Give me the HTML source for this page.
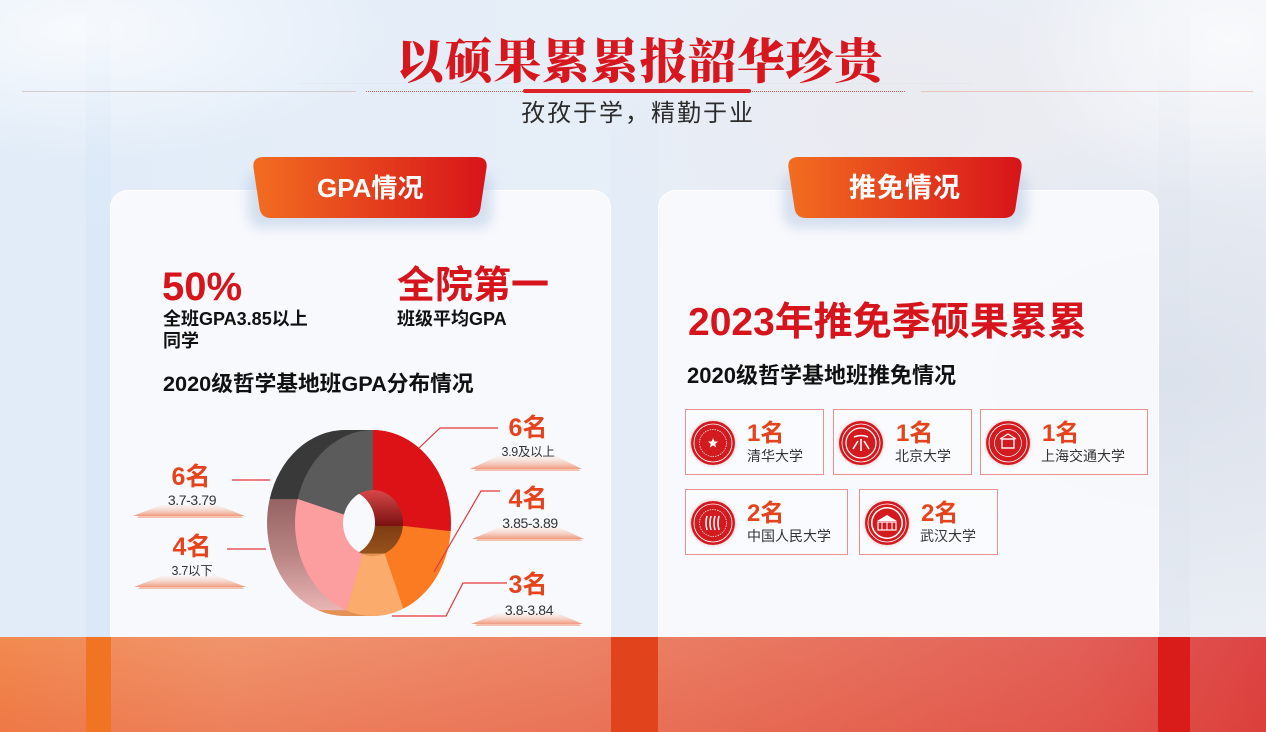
<!DOCTYPE html>
<html><head><meta charset="utf-8">
<style>
html,body{margin:0;padding:0;}
body{width:1266px;height:732px;position:relative;overflow:hidden;
background:
radial-gradient(ellipse 320px 130px at 80px 30px, rgba(255,255,255,0.75), rgba(255,255,255,0)),
radial-gradient(ellipse 220px 160px at 1230px 40px, rgba(255,255,255,0.7), rgba(255,255,255,0)),
radial-gradient(ellipse 380px 260px at 1180px 380px, rgba(214,220,232,0.7), rgba(214,220,232,0)),
radial-gradient(ellipse 300px 200px at 900px 120px, rgba(236,232,236,0.6), rgba(236,232,236,0)),
linear-gradient(90deg,#e1ecf8 0%,#e6eef8 45%,#eaeef4 100%);
font-family:"Liberation Sans","Noto Sans CJK SC",sans-serif;}
.t{position:absolute;white-space:nowrap;line-height:1;}
.card{position:absolute;top:190px;height:470px;border-radius:18px;background:rgba(248,250,253,0.92);box-shadow:0 0 0 1px rgba(255,255,255,0.9) inset;}
.box{position:absolute;border:1px solid #ec8f8f;background:rgba(255,255,255,0.35);box-sizing:border-box;}
.rk{color:#e5431c;font-weight:700;font-size:24px;}
.nm{color:#333;font-size:14px;}
.lab{color:#e6431c;font-weight:700;font-size:25px;text-align:center;width:120px;}
.sub{color:#333;font-size:12.5px;text-align:center;width:120px;letter-spacing:-0.3px;}
.subd{color:#333;font-size:14px;text-align:center;width:120px;letter-spacing:-0.4px;}
</style></head>
<body>
<!-- vertical light strips -->
<div style="position:absolute;left:86px;top:0;width:25px;height:637px;background:linear-gradient(180deg,rgba(200,222,246,0) 0%,rgba(200,222,246,0.3) 40%,rgba(200,222,246,0.3) 100%);"></div>
<div style="position:absolute;left:611px;top:0;width:47px;height:637px;background:linear-gradient(180deg,rgba(214,228,244,0) 0%,rgba(214,228,244,0.2) 40%,rgba(214,228,244,0.2) 100%);"></div>
<div style="position:absolute;left:1159px;top:0;width:31px;height:637px;background:linear-gradient(180deg,rgba(220,226,236,0) 0%,rgba(220,226,236,0.3) 40%,rgba(220,226,236,0.3) 100%);"></div>

<!-- cards -->
<div class="card" style="left:110px;width:501px;"></div>
<div class="card" style="left:658px;width:501px;"></div>

<!-- boxes (below svg so emblems stay vivid) -->
<div class="box" style="left:685px;top:409px;width:139px;height:66px;"></div>
<div class="box" style="left:833px;top:409px;width:139px;height:66px;"></div>
<div class="box" style="left:980px;top:409px;width:168px;height:66px;"></div>
<div class="box" style="left:685px;top:489px;width:163px;height:66px;"></div>
<div class="box" style="left:859px;top:489px;width:139px;height:66px;"></div>

<!-- bottom band -->
<div style="position:absolute;left:0;top:637px;width:1266px;height:95px;
background:linear-gradient(180deg,rgba(255,255,255,0) 0%,rgba(220,40,20,0.18) 100%),linear-gradient(90deg,#f28a50 0%,#f0946c 18%,#ec8466 45%,#e7735f 65%,#e26058 85%,#dc4444 100%);"></div>
<div style="position:absolute;left:0;top:637px;width:1266px;height:95px;background:radial-gradient(ellipse 260px 90px at 1266px 732px, rgba(215,20,20,0.7), rgba(215,20,20,0));"></div>
<div style="position:absolute;left:86px;top:637px;width:25px;height:95px;background:#f07424;"></div>
<div style="position:absolute;left:611px;top:637px;width:47px;height:95px;background:#e1441c;"></div>
<div style="position:absolute;left:1158px;top:637px;width:32px;height:95px;background:#d91c1a;"></div>

<svg width="1266" height="732" style="position:absolute;left:0;top:0;" xmlns="http://www.w3.org/2000/svg">
<defs>
<linearGradient id="tabg" x1="0" y1="0" x2="1" y2="0">
<stop offset="0" stop-color="#f26d20"/><stop offset="1" stop-color="#d8141a"/></linearGradient>
<filter id="blur" x="-20%" y="-40%" width="140%" height="180%"><feGaussianBlur stdDeviation="6"/></filter>
<filter id="blur2" x="-20%" y="-20%" width="140%" height="140%"><feGaussianBlur stdDeviation="1.5"/></filter>
<linearGradient id="redside" gradientUnits="userSpaceOnUse" x1="0" y1="490" x2="0" y2="526">
<stop offset="0" stop-color="#d64848"/><stop offset="1" stop-color="#7a1010"/></linearGradient>
<linearGradient id="orside" gradientUnits="userSpaceOnUse" x1="0" y1="526" x2="0" y2="560">
<stop offset="0" stop-color="#7e3c12"/><stop offset="1" stop-color="#9c5820"/></linearGradient>
<linearGradient id="pkside" gradientUnits="userSpaceOnUse" x1="0" y1="498" x2="0" y2="612">
<stop offset="0" stop-color="#946262"/><stop offset="0.5" stop-color="#b98484"/><stop offset="1" stop-color="#ecb6b6"/></linearGradient>
<linearGradient id="trap" x1="0" y1="0" x2="0" y2="1">
<stop offset="0" stop-color="#fbe4da" stop-opacity="0.3"/><stop offset="1" stop-color="#f09a7e"/></linearGradient>
<g id="side">
<path d="M373,430 A78,93 0 0 1 450.7,531.1 L402.9,525.9 A30,33 0 0 0 373,490 Z" fill="url(#redside)"/>
<path d="M450.7,531.1 A78,93 0 0 1 403.5,608.6 L384.7,553.4 A30,33 0 0 0 402.9,525.9 Z" fill="url(#orside)"/>
<path d="M403.5,608.6 A78,93 0 0 1 346.3,610.4 L362.7,554 A30,33 0 0 0 384.7,553.4 Z" fill="#e49258"/>
<path d="M346.3,610.4 A78,93 0 0 1 297.7,498.9 L344,514.5 A30,33 0 0 0 362.7,554 Z" fill="url(#pkside)"/>
<path d="M297.7,498.9 A78,93 0 0 1 373,430 L373,490 A30,33 0 0 0 344,514.5 Z" fill="#393939"/>
</g>
</defs>

<!-- title lines -->
<line x1="22" y1="91.5" x2="356" y2="91.5" stroke="#d6cccc" stroke-width="1"/>
<line x1="299" y1="83.5" x2="974" y2="83.5" stroke="#d8d8d8" stroke-width="1" stroke-dasharray="1 1.5" opacity="0.5"/>
<line x1="366" y1="91.5" x2="905" y2="91.5" stroke="#e05a5a" stroke-width="1" stroke-dasharray="1 1"/>
<line x1="525" y1="91" x2="749" y2="91" stroke="#dd2228" stroke-width="4" stroke-linecap="round"/>
<line x1="921" y1="91.5" x2="1253" y2="91.5" stroke="#eac4bc" stroke-width="1"/>

<!-- tabs -->
<rect x="248" y="172" width="244" height="56" rx="14" fill="#a9bede" opacity="0.45" filter="url(#blur)"/>
<rect x="783" y="172" width="244" height="56" rx="14" fill="#a9bede" opacity="0.45" filter="url(#blur)"/>
<path d="M264,157 L476,157 Q488,157 486.5,168 L480.5,208 Q479,218 469,218 L271,218 Q261,218 259.5,208 L253.5,168 Q252,157 264,157 Z" fill="url(#tabg)"/>
<path d="M799,157 L1011,157 Q1023,157 1021.5,168 L1015.5,208 Q1014,218 1004,218 L806,218 Q796,218 794.5,208 L788.5,168 Q787,157 799,157 Z" fill="url(#tabg)"/>

<!-- donut extrusion -->
<use href="#side" x="-28"/><use href="#side" x="-27"/><use href="#side" x="-26"/><use href="#side" x="-25"/>
<use href="#side" x="-24"/><use href="#side" x="-23"/><use href="#side" x="-22"/><use href="#side" x="-21"/>
<use href="#side" x="-20"/><use href="#side" x="-19"/><use href="#side" x="-18"/><use href="#side" x="-17"/>
<use href="#side" x="-16"/><use href="#side" x="-15"/><use href="#side" x="-14"/><use href="#side" x="-13"/>
<use href="#side" x="-12"/><use href="#side" x="-11"/><use href="#side" x="-10"/><use href="#side" x="-9"/>
<use href="#side" x="-8"/><use href="#side" x="-7"/><use href="#side" x="-6"/><use href="#side" x="-5"/>
<use href="#side" x="-4"/><use href="#side" x="-3"/><use href="#side" x="-2"/><use href="#side" x="-1"/>
<!-- donut front -->
<path d="M373,430 A78,93 0 0 1 450.7,531.1 L402.9,525.9 A30,33 0 0 0 373,490 Z" fill="#dd1216"/>
<path d="M450.7,531.1 A78,93 0 0 1 403.5,608.6 L384.7,553.4 A30,33 0 0 0 402.9,525.9 Z" fill="#fa7b22"/>
<path d="M403.5,608.6 A78,93 0 0 1 346.3,610.4 L362.7,554 A30,33 0 0 0 384.7,553.4 Z" fill="#fbab6c"/>
<path d="M346.3,610.4 A78,93 0 0 1 297.7,498.9 L344,514.5 A30,33 0 0 0 362.7,554 Z" fill="#fc9ea0"/>
<path d="M297.7,498.9 A78,93 0 0 1 373,430 L373,490 A30,33 0 0 0 344,514.5 Z" fill="#5b5b5b"/>

<!-- leader lines -->
<g fill="none" stroke="#e2383a" stroke-width="1.2">
<polyline points="419,448 440,428 498,428"/>
<polyline points="434,572 481,491 500,491"/>
<polyline points="392,616 446,616 463,583 507,583"/>
<polyline points="232,480 270,480"/>
<polyline points="227,549 266,549"/>
</g>

<!-- trapezoids -->
<g>
<polygon points="470,469 498,456 556,456 582,469" fill="url(#trap)"/><polygon points="474,471 580,471 578,469 476,469" fill="#f6c2b0"/>
<polygon points="472,539 500,527 558,527 584,539" fill="url(#trap)"/><polygon points="476,541 582,541 580,539 478,539" fill="#f6c2b0"/>
<polygon points="471,624 499,613 557,613 583,624" fill="url(#trap)"/><polygon points="475,626 581,626 579,624 477,624" fill="#f6c2b0"/>
<polygon points="133,516 161,505 217,505 245,516" fill="url(#trap)"/><polygon points="137,518 243,518 241,516 139,516" fill="#f6c2b0"/>
<polygon points="134,587 162,576 218,576 246,587" fill="url(#trap)"/><polygon points="138,589 244,589 242,587 140,587" fill="#f6c2b0"/>
</g>

<!-- emblems -->
<g>
<g transform="translate(713,443)"><circle r="23" fill="#e8a0a0" opacity="0.4" filter="url(#blur2)"/><circle r="22" fill="#d31b1f"/><circle r="19" fill="none" stroke="#fff" stroke-width="0.8"/><circle r="13.5" fill="none" stroke="#fff" stroke-width="0.7" stroke-dasharray="1.5 1"/><polygon points="0,-5 1.5,-1.5 5,-1.5 2.2,1 3.2,4.5 0,2.4 -3.2,4.5 -2.2,1 -5,-1.5 -1.5,-1.5" fill="#fff"/></g>
<g transform="translate(861,443)"><circle r="23" fill="#e8a0a0" opacity="0.4" filter="url(#blur2)"/><circle r="22" fill="#d31b1f"/><circle r="19" fill="none" stroke="#fff" stroke-width="0.8"/><circle r="15" fill="none" stroke="#fff" stroke-width="1.2"/><g stroke="#fff" stroke-width="1.6" fill="none"><path d="M-7,-6 Q0,-9 7,-6"/><path d="M0,-4 L0,8"/><path d="M-3,-2 L-8,6"/><path d="M3,-2 L8,6"/></g></g>
<g transform="translate(1008,443)"><circle r="23" fill="#e8a0a0" opacity="0.4" filter="url(#blur2)"/><circle r="22" fill="#d31b1f"/><circle r="19" fill="none" stroke="#fff" stroke-width="0.8"/><circle r="13.5" fill="none" stroke="#fff" stroke-width="0.7"/><rect x="-6" y="-4" width="12" height="9" fill="none" stroke="#fff" stroke-width="1.4"/><path d="M-8,-4 L0,-9 L8,-4" fill="none" stroke="#fff" stroke-width="1.2"/></g>
<g transform="translate(713,523)"><circle r="23" fill="#e8a0a0" opacity="0.4" filter="url(#blur2)"/><circle r="22" fill="#d31b1f"/><circle r="19" fill="none" stroke="#fff" stroke-width="0.8"/><circle r="13.5" fill="none" stroke="#fff" stroke-width="0.7" stroke-dasharray="1.5 1"/><g stroke="#fff" stroke-width="1.5" fill="none"><path d="M-6,-7 Q-8,0 -6,7"/><path d="M-2,-7 Q-4,0 -2,7"/><path d="M2,-7 Q0,0 2,7"/><path d="M6,-7 Q4,0 6,7"/></g></g>
<g transform="translate(887,523)"><circle r="23" fill="#e8a0a0" opacity="0.4" filter="url(#blur2)"/><circle r="22" fill="#d31b1f"/><circle r="19" fill="none" stroke="#fff" stroke-width="0.8"/><circle r="16" fill="#fff"/><circle r="14.5" fill="#d31b1f"/><path d="M-10,-2 L0,-8 L10,-2 Z" fill="#fff"/><rect x="-9" y="-1" width="18" height="8" fill="none" stroke="#fff" stroke-width="1.2"/><path d="M-5,-1 L-5,7 M0,-1 L0,7 M5,-1 L5,7" stroke="#fff" stroke-width="1"/></g>
</g>
</svg>

<!-- header text -->
<div class="t" style="left:396px;top:39px;font-size:48px;letter-spacing:0.7px;color:#d8161d;font-weight:900;font-family:'Liberation Serif','Noto Serif CJK SC',serif;">以硕果累累报韶华珍贵</div>
<div class="t" style="left:521px;top:102px;font-size:24px;letter-spacing:2px;color:#2b2b2b;">孜孜于学，精勤于业</div>

<!-- tab text -->
<div class="t" style="left:317px;top:175px;font-size:26px;color:#fff;font-weight:700;">GPA情况</div>
<div class="t" style="left:849px;top:175px;font-size:27px;letter-spacing:1px;color:#fff;font-weight:700;">推免情况</div>

<!-- left card -->
<div class="t" style="left:162px;top:267px;font-size:40px;color:#d7141b;font-weight:700;">50%</div>
<div class="t" style="left:163px;top:310px;font-size:18px;color:#111;font-weight:700;">全班GPA3.85以上</div>
<div class="t" style="left:163px;top:332px;font-size:18px;color:#111;font-weight:700;">同学</div>
<div class="t" style="left:397px;top:267px;font-size:38px;color:#d7141b;font-weight:700;">全院第一</div>
<div class="t" style="left:397px;top:310px;font-size:18px;color:#111;font-weight:700;">班级平均GPA</div>
<div class="t" style="left:163px;top:373px;font-size:21.7px;color:#111;font-weight:700;">2020级哲学基地班GPA分布情况</div>

<!-- donut labels -->
<div class="t lab" style="left:468px;top:416px;">6名</div>
<div class="t sub" style="left:468px;top:446px;">3.9及以上</div>
<div class="t lab" style="left:468px;top:487px;">4名</div>
<div class="t subd" style="left:470px;top:516px;">3.85-3.89</div>
<div class="t lab" style="left:468px;top:573px;">3名</div>
<div class="t subd" style="left:469px;top:603px;">3.8-3.84</div>
<div class="t lab" style="left:131px;top:465px;">6名</div>
<div class="t subd" style="left:132px;top:493px;">3.7-3.79</div>
<div class="t lab" style="left:132px;top:535px;">4名</div>
<div class="t sub" style="left:132px;top:565px;">3.7以下</div>

<!-- right card -->
<div class="t" style="left:688px;top:303px;font-size:39px;color:#d7141b;font-weight:700;">2023年推免季硕果累累</div>
<div class="t" style="left:687px;top:365px;font-size:22px;color:#111;font-weight:700;">2020级哲学基地班推免情况</div>

<div class="t rk" style="left:747px;top:422px;">1名</div>
<div class="t nm" style="left:747px;top:449px;">清华大学</div>
<div class="t rk" style="left:896px;top:422px;">1名</div>
<div class="t nm" style="left:895px;top:449px;">北京大学</div>
<div class="t rk" style="left:1042px;top:422px;">1名</div>
<div class="t nm" style="left:1041px;top:449px;">上海交通大学</div>
<div class="t rk" style="left:747px;top:502px;">2名</div>
<div class="t nm" style="left:747px;top:529px;">中国人民大学</div>
<div class="t rk" style="left:921px;top:502px;">2名</div>
<div class="t nm" style="left:920px;top:529px;">武汉大学</div>
</body></html>
